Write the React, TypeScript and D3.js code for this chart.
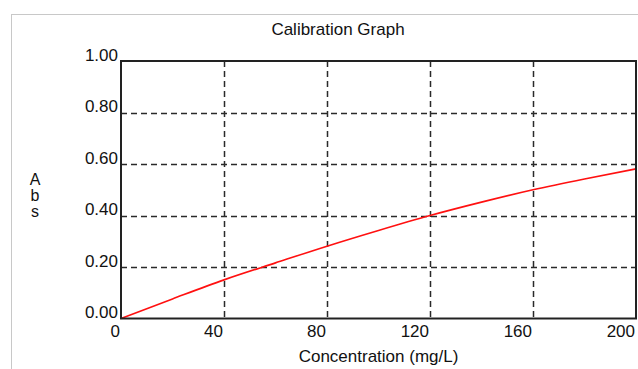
import * as d3 from 'd3';
import React from 'react';

// calibration curve
const concentration = [0, 20, 40, 60, 80, 100, 120, 140, 160, 180, 200];
const absorbance = [0, 0.076, 0.150, 0.216, 0.281, 0.342, 0.400, 0.452, 0.500, 0.542, 0.581];
const xTicks = [0, 40, 80, 120, 160, 200];
const yTicks = [0, 0.2, 0.4, 0.6, 0.8, 1.0];
const yLetters = ['A', 'b', 's'];

const W = 638;
const H = 369;
const plot = { left: 121, right: 636, top: 61, bottom: 318.5 };
const font = '"Liberation Sans", Arial, sans-serif';

const App: React.FC = () => {
  const x = d3.scaleLinear().domain([0, 200]).range([plot.left, plot.right]);
  const y = d3.scaleLinear().domain([0, 1]).range([plot.bottom, plot.top]);

  const line = d3.line<number>()
    .x((_, i) => x(concentration[i]))
    .y(d => y(d))
    .curve(d3.curveMonotoneX);

  return (
    <svg width={W} height={H} style={{ position: 'fixed', left: 0, top: 0, background: '#fff' }}
      fontFamily={font} fontSize={17} fill="#111">
      <rect x={11.5} y={14.5} width={W} height={H} fill="none" stroke="#c8c8c8" strokeWidth={1} />
      <text x={338} y={35} textAnchor="middle">Calibration Graph</text>

      {yTicks.slice(1, -1).map(t => (
        <line key={'gy' + t} x1={plot.left} x2={plot.right} y1={Math.round(y(t)) + 0.5} y2={Math.round(y(t)) + 0.5}
          stroke="#2a2a2a" strokeWidth={1.5} strokeDasharray="6,4" />
      ))}
      {xTicks.slice(1, -1).map(t => (
        <line key={'gx' + t} x1={Math.round(x(t)) + 0.5} x2={Math.round(x(t)) + 0.5} y1={plot.top} y2={plot.bottom}
          stroke="#2a2a2a" strokeWidth={1.5} strokeDasharray="6,4" />
      ))}

      <path d={line(absorbance) ?? ''} fill="none" stroke="#ff1010" strokeWidth={1.6} />

      <rect x={plot.left} y={plot.top} width={plot.right - plot.left} height={plot.bottom - plot.top}
        fill="none" stroke="#222" strokeWidth={2} />

      {yTicks.map(t => (
        <text key={'ty' + t} x={118} y={y(t) - 0.5} textAnchor="end">{d3.format('.2f')(t)}</text>
      ))}
      {xTicks.map(t => (
        <text key={'tx' + t} x={x(t) - 1} y={336.5} textAnchor="end">{t}</text>
      ))}

      <text x={(plot.left + plot.right) / 2} y={362} textAnchor="middle">Concentration (mg/L)</text>
      {yLetters.map((c, i) => (
        <text key={c} x={35} y={185 + i * 16} textAnchor="middle" fontSize={16}>{c}</text>
      ))}
    </svg>
  );
};

export default App;
